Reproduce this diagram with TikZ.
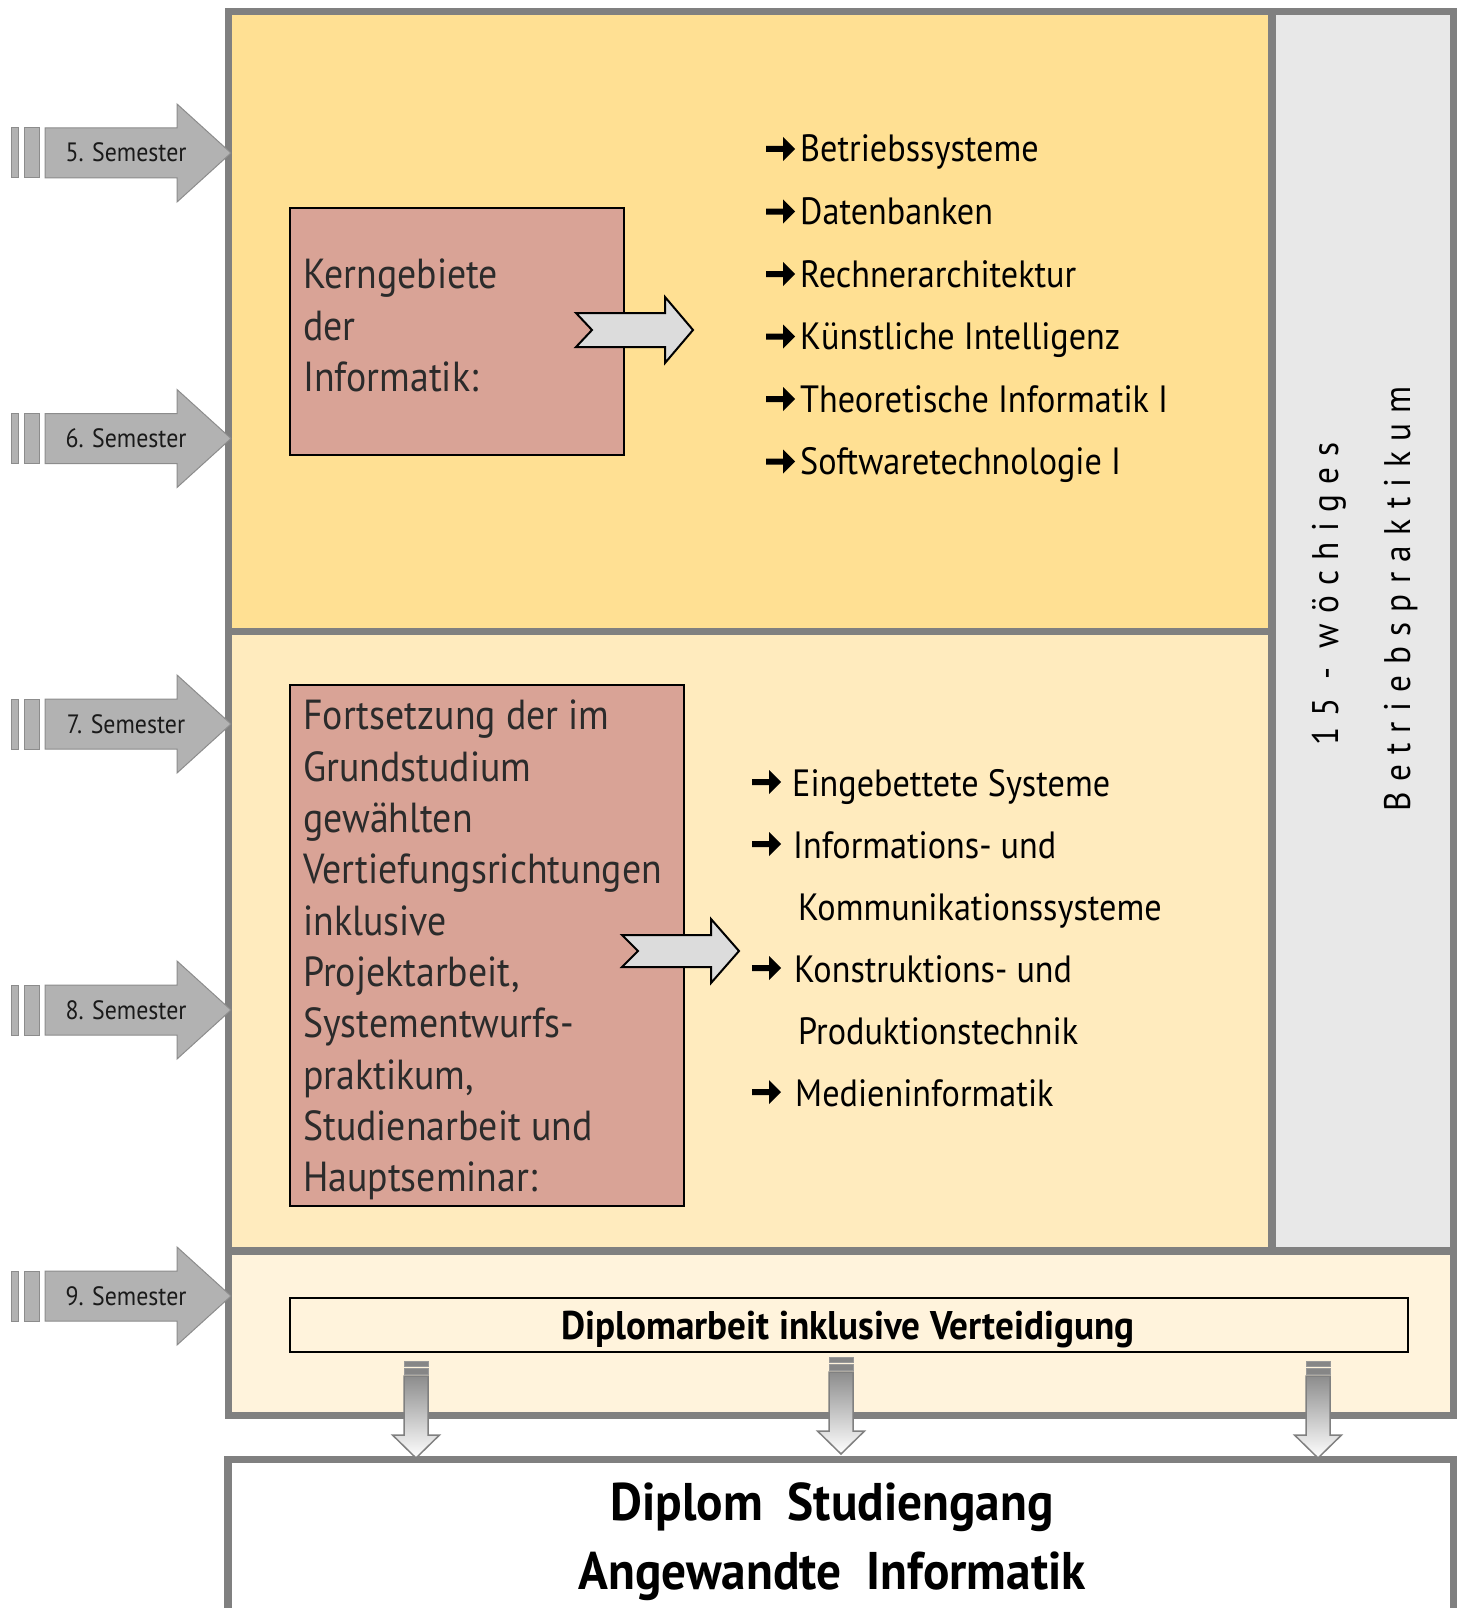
\documentclass[tikz,border=0pt]{standalone}
\usepackage{fontspec}
\setmainfont{PT Sans}[FakeStretch=0.9]
\newfontfamily\spacedfont{PT Sans}[FakeStretch=0.9,LetterSpace=28]
\newfontfamily\titlefont{PT Sans}[FakeStretch=0.93]
\usetikzlibrary{calc}
\definecolor{framegray}{HTML}{808080}
\definecolor{secA}{HTML}{FFE093}
\definecolor{secB}{HTML}{FFEBBE}
\definecolor{secC}{HTML}{FFF3DC}
\definecolor{colgray}{HTML}{E8E8E8}
\definecolor{redfill}{HTML}{D9A396}
\definecolor{lightarrow}{HTML}{DCDCDC}
\definecolor{semfill}{HTML}{B2B2B2}
\definecolor{semborder}{HTML}{8C8C8C}
\definecolor{boxtextcol}{HTML}{2B2B2B}
\definecolor{semtextcol}{HTML}{1A1A1A}
\newcommand\blkarr[1]{\fill[black] #1 ++(0,-3) -- ++(17,0) -- ++(0,-9) -- ++(12,12) -- ++(-12,12) -- ++(0,-9) -- ++(-17,0) -- cycle;}
\begin{document}
\begin{tikzpicture}[x=1pt,y=-1pt,
  frameline/.style={draw=framegray,line width=7.5pt},
  redbox/.style={draw=black,line width=1.5pt,fill=redfill,inner sep=0pt,anchor=north west},
  boxtext/.style={anchor=north west,inner sep=0pt,align=left,text=boxtextcol,font=\fontsize{42}{51.3}\selectfont},
  listtext/.style={anchor=base west,inner sep=0pt,text=black,font=\fontsize{38}{40}\selectfont},
  semtext/.style={anchor=base,inner sep=0pt,text=semtextcol,font=\fontsize{26.5}{28}\selectfont},
  semarrow/.style={fill=semfill,draw=semborder,line width=1pt},
  blockarrow/.style={fill=lightarrow,draw=black,line width=2pt,line join=miter},
  rottext/.style={rotate=90,anchor=base,inner sep=0pt,text=black,font=\spacedfont\fontsize{37}{40}\selectfont},
  downarrow/.style={top color=framegray!90,bottom color=white,draw=framegray,line width=1.5pt},
  downcap/.style={fill=framegray!95,draw=framegray!80,line width=0.8pt}]
\useasboundingbox (0,0) rectangle (1461,1608);
\fill[white] (0,0) rectangle (1461,1608);

% section fills
\fill[secA] (228.5,11.5) rectangle (1272,631.5);
\fill[secB] (228.5,631.5) rectangle (1272,1251);
\fill[colgray] (1272,11.5) rectangle (1453.5,1251);
\fill[secC] (228.5,1251) rectangle (1453.5,1415.5);

% frame
\draw[frameline] (228.5,11.5) rectangle (1453.5,1415.5);
\draw[frameline] (228.5,631.5) -- (1272,631.5);
\draw[frameline] (1272,11.5) -- (1272,1251);
\draw[frameline] (228.5,1251) -- (1453.5,1251);

% semester arrows
\foreach \n/\yc in {5/153,6/438.5,7/724,8/1010,9/1296}{
  \draw[semarrow] (11,\yc-25) rectangle (18,\yc+25);
  \draw[semarrow] (24,\yc-25) rectangle (39,\yc+25);
  \draw[semarrow] (45,\yc-25) -- (177,\yc-25) -- (177,\yc-49) -- (231,\yc) -- (177,\yc+49) -- (177,\yc+25) -- (45,\yc+25) -- cycle;
  \node[semtext] (sem\n) at (126,\yc+9) {\n. Semester};
}

% bottom title box
\draw[frameline] (228,1625) -- (228,1459.5) -- (1453.5,1459.5) -- (1453.5,1625);
\node[anchor=base,inner sep=0pt,font=\titlefont\bfseries\fontsize{53}{56}\selectfont] (title1) at (832,1520) {Diplom\ \ Studiengang};
\node[anchor=base,inner sep=0pt,font=\titlefont\bfseries\fontsize{53}{56}\selectfont] (title2) at (832,1589) {Angewandte\ \ Informatik};

% red boxes
\node[redbox,minimum width=334pt,minimum height=247pt] (kern) at (289,207) {};
\node[boxtext] (kerntext) at (303,259) {Kerngebiete\\der\\Informatik:};
\node[redbox,minimum width=394pt,minimum height=521pt] (fort) at (289,684) {};
\node[boxtext] (forttext) at (303,700) {Fortsetzung der im\\Grundstudium\\gewählten\\Vertiefungsrichtungen\\inklusive\\Projektarbeit,\\Systementwurfs-\\praktikum,\\Studienarbeit und\\Hauptseminar:};

% block arrows
\draw[blockarrow] (576,313) -- (665,313) -- (665,297) -- (693,330) -- (665,363) -- (665,347) -- (576,347) -- (592,330) -- cycle;
\draw[blockarrow] (622,935) -- (711,935) -- (711,919) -- (739,951) -- (711,983) -- (711,967) -- (622,967) -- (638,951) -- cycle;

% top list
\foreach \i/\t in {0/Betriebssysteme,1/Datenbanken,2/Rechnerarchitektur,3/Künstliche Intelligenz,4/Theoretische Informatik I,5/Softwaretechnologie I}{
  \node[listtext] (top\i) at (800,162+62.5*\i) {\t};
  \blkarr{($(top\i.base west)+(-34,-13)$)}
}

% middle list
\node[listtext] (mid0) at (792,796) {Eingebettete Systeme};
\node[listtext] (mid1) at (793,858) {Informations- und};
\node[listtext] (mid1b) at (798,920) {Kommunikationssysteme};
\node[listtext] (mid2) at (794,982) {Konstruktions- und};
\node[listtext] (mid2b) at (798,1044) {Produktionstechnik};
\node[listtext] (mid3) at (795,1106) {Medieninformatik};
\blkarr{(752,782)}
\blkarr{(752,844)}
\blkarr{(752,968)}
\blkarr{(752,1092)}

% rotated texts
\node[rottext] (w15) at (1338,594) {15 - wöchiges};
\node[rottext] (bp) at (1410,599) {Betriebspraktikum};

% diplom box
\node[draw=black,line width=1.5pt,fill=secC,minimum width=1118pt,minimum height=54pt,inner sep=0pt,anchor=north west] (dipl) at (289,1297) {};
\node[anchor=base,inner sep=0pt,font=\titlefont\bfseries\fontsize{40}{42}\selectfont] (dipltext) at (848,1339) {Diplomarbeit inklusive Verteidigung};

% down arrows
\foreach \cx/\dy in {416/0,841/-4,1318/0}{
  \draw[downcap] (\cx-12,1361+\dy) rectangle (\cx+12,1366+\dy);
  \draw[downcap] (\cx-12,1368+\dy) rectangle (\cx+12,1374+\dy);
  \draw[downarrow] (\cx-12,1376+\dy) -- (\cx+12,1376+\dy) -- (\cx+12,1435+\dy) -- (\cx+23.5,1435+\dy) -- (\cx,1458+\dy) -- (\cx-23.5,1435+\dy) -- (\cx-12,1435+\dy) -- cycle;
}
\end{tikzpicture}
\end{document}
